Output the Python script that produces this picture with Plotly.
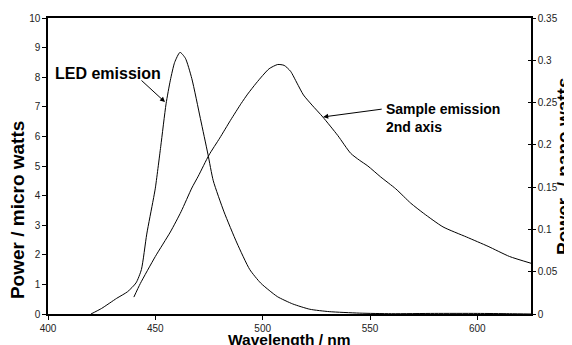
import plotly.graph_objects as go

# LED emission (left axis, micro watts)
led_nm = [420, 425, 432, 437, 441, 443.5, 446, 449, 450, 452.5, 455, 457, 459, 461.5, 464, 467, 471,
          474.5, 477, 482, 488, 494, 499, 503, 507, 514, 522, 531, 545, 560, 580, 600, 615, 625]
led_uw = [0, 0.19, 0.53, 0.75, 1.05, 1.5, 2.7, 3.85, 4.25, 5.65, 7.1, 7.9, 8.5, 8.84, 8.64, 7.95, 6.6,
          5.4, 4.5, 3.45, 2.4, 1.5, 1.05, 0.8, 0.58, 0.34, 0.16, 0.08, 0.03, 0.01, 0.02, 0.02, 0.01, 0.0]

# Sample emission (right axis, nano watts)
smp_nm = [440, 443, 450, 457, 462, 467, 470, 475, 480, 485, 490, 493, 497, 500, 503, 507, 510,
          513, 516, 519, 523, 528, 535, 541, 545, 549, 555, 562, 569, 575, 584, 595, 605, 615, 625]
smp_nw = [0.020, 0.036, 0.068, 0.097, 0.121, 0.149, 0.163, 0.188, 0.208, 0.229, 0.249, 0.260,
          0.273, 0.282, 0.290, 0.295, 0.294, 0.287, 0.273, 0.259, 0.247, 0.233, 0.211, 0.190,
          0.182, 0.175, 0.162, 0.148, 0.131, 0.119, 0.103, 0.091, 0.080, 0.068, 0.060]

x_ticks = [400, 450, 500, 550, 600]

FONT = "Liberation Sans, Arial, sans-serif"

fig = go.Figure()
fig.add_trace(go.Scatter(x=led_nm, y=led_uw, mode="lines",
                         line=dict(color="black", width=1, shape="spline", smoothing=0.6),
                         yaxis="y", showlegend=False))
fig.add_trace(go.Scatter(x=smp_nm, y=smp_nw, mode="lines",
                         line=dict(color="black", width=1, shape="spline", smoothing=0.6),
                         yaxis="y2", showlegend=False))
fig.add_trace(go.Scatter(x=[None], y=[None], yaxis="y3", showlegend=False, hoverinfo="skip"))

common = dict(showgrid=False, zeroline=False, automargin=False, tickcolor="black",
              tickfont=dict(size=10, color="#222"))

# The page body adds an 8px offset, so the figure is sized to fit the window exactly.
fig.update_layout(
    width=564, height=337,
    margin=dict(l=40, r=41, t=10, b=31, autoexpand=False),
    paper_bgcolor="white", plot_bgcolor="white",
    font=dict(family=FONT, color="black", size=10),
    xaxis=dict(range=[400, 625], tickvals=x_ticks, showline=True, linecolor="black", linewidth=1.5,
               mirror=True, ticks="outside", ticklen=4, **common),
    yaxis=dict(range=[0, 10], dtick=1, showline=True, linecolor="black", linewidth=1.5,
               ticks="outside", ticklen=4, **common),
    yaxis2=dict(range=[0, 0.35], dtick=0.05, overlaying="y", side="right", showline=True,
                linecolor="black", linewidth=1.5, ticks="outside", ticklen=3, **common),
    yaxis3=dict(range=[0, 0.35], dtick=0.05, overlaying="y", side="right", showline=False,
                ticks="inside", ticklen=3, showticklabels=False, **common),
    annotations=[
        # axis titles
        dict(x=0.5, y=-0.087, xref="paper", yref="paper", text="<b>Wavelength / nm</b>",
             showarrow=False, font=dict(size=15.5), xanchor="center", yanchor="middle"),
        dict(x=-0.0642, y=0.351, xref="paper", yref="paper", text="<b>Power / micro watts</b>",
             showarrow=False, font=dict(size=19), textangle=-90, xanchor="center", yanchor="middle"),
        dict(x=1.066, y=0.5, xref="paper", yref="paper", text="<b>Power  / nano watts</b>",
             showarrow=False, font=dict(size=19), textangle=-90, xanchor="center", yanchor="middle"),
        # labels with arrows
        dict(x=428, y=8.14, xref="x", yref="y", text="<b>LED emission</b>", showarrow=False,
             font=dict(size=16), xanchor="center", yanchor="middle"),
        dict(x=454.5, y=7.16, xref="x", yref="y", text="", showarrow=True, ax=-25, ay=-23,
             arrowhead=2, arrowsize=1, arrowwidth=1, arrowcolor="black"),
        dict(x=556.6, y=6.62, xref="x", yref="y", text="<b>Sample emission<br>2nd axis</b>",
             showarrow=False, font=dict(size=14), xanchor="left", yanchor="middle", align="left"),
        dict(x=528.2, y=0.233, xref="x", yref="y2", text="", showarrow=True, ax=60, ay=-8,
             arrowhead=2, arrowsize=1, arrowwidth=1, arrowcolor="black"),
    ],
)

fig.write_html("out.html")
